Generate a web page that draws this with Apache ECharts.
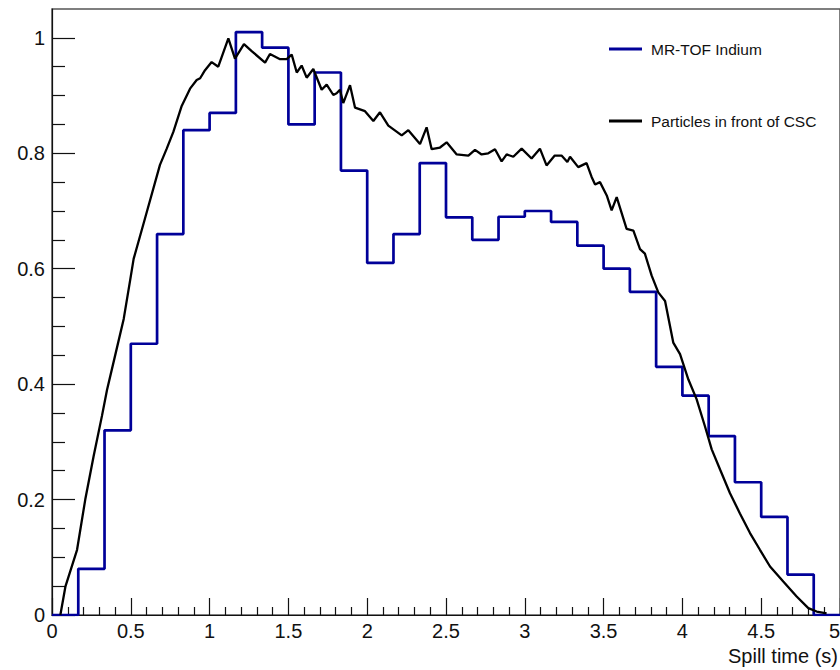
<!DOCTYPE html>
<html>
<head>
<meta charset="utf-8">
<script src="https://cdn.jsdelivr.net/npm/echarts@6/dist/echarts.min.js"></script>
<style>
html,body{margin:0;padding:0;background:#fff;}
#chart{width:840px;height:670px;}
</style>
</head>
<body>
<div id="chart"></div>
<script>
// ---- data ----
var binEdges = [0, 0.1667, 0.3333, 0.5, 0.6667, 0.8333, 1.0, 1.1667, 1.3333, 1.5, 1.6667, 1.8333, 2.0, 2.1667, 2.3333, 2.5, 2.6667, 2.8333, 3.0, 3.1667, 3.3333, 3.5, 3.6667, 3.8333, 4.0, 4.1667, 4.3333, 4.5, 4.6667, 4.8333, 5.0];
var mrtofValues = [0, 0.08, 0.32, 0.47, 0.66, 0.84, 0.87, 1.01, 0.983, 0.85, 0.94, 0.77, 0.61, 0.66, 0.783, 0.689, 0.65, 0.69, 0.70, 0.681, 0.64, 0.60, 0.56, 0.43, 0.38, 0.31, 0.23, 0.17, 0.07, 0];
var cscTime = [0.053, 0.085, 0.159, 0.211, 0.264, 0.317, 0.349, 0.40, 0.455, 0.497, 0.518, 0.59, 0.685, 0.728, 0.77, 0.823, 0.876, 0.918, 0.94, 0.971, 1.013, 1.055, 1.119, 1.161, 1.218, 1.267, 1.352, 1.383, 1.447, 1.489, 1.521, 1.553, 1.584, 1.616, 1.658, 1.711, 1.743, 1.785, 1.806, 1.827, 1.848, 1.891, 1.923, 1.986, 2.039, 2.081, 2.134, 2.219, 2.261, 2.335, 2.377, 2.409, 2.462, 2.504, 2.568, 2.642, 2.684, 2.726, 2.768, 2.811, 2.853, 2.885, 2.927, 2.98, 3.043, 3.096, 3.138, 3.19, 3.233, 3.27, 3.287, 3.339, 3.392, 3.424, 3.446, 3.477, 3.52, 3.551, 3.583, 3.646, 3.689, 3.731, 3.762, 3.805, 3.847, 3.89, 3.942, 3.985, 4.038, 4.09, 4.143, 4.186, 4.239, 4.302, 4.365, 4.429, 4.492, 4.556, 4.64, 4.725, 4.799, 4.852, 4.915];
var cscValues = [0, 0.049, 0.113, 0.2, 0.275, 0.345, 0.39, 0.449, 0.513, 0.582, 0.617, 0.687, 0.78, 0.808, 0.837, 0.882, 0.912, 0.927, 0.93, 0.944, 0.958, 0.95, 0.999, 0.964, 0.989, 0.977, 0.957, 0.972, 0.963, 0.963, 0.971, 0.94, 0.952, 0.931, 0.946, 0.91, 0.919, 0.901, 0.904, 0.91, 0.887, 0.918, 0.879, 0.873, 0.856, 0.871, 0.848, 0.831, 0.84, 0.816, 0.845, 0.807, 0.81, 0.819, 0.798, 0.796, 0.806, 0.798, 0.8, 0.807, 0.786, 0.798, 0.794, 0.808, 0.791, 0.808, 0.779, 0.796, 0.796, 0.785, 0.794, 0.776, 0.783, 0.759, 0.746, 0.75, 0.727, 0.701, 0.724, 0.669, 0.666, 0.634, 0.626, 0.588, 0.559, 0.544, 0.472, 0.452, 0.408, 0.374, 0.327, 0.287, 0.252, 0.211, 0.176, 0.142, 0.113, 0.084, 0.058, 0.032, 0.012, 0.006, 0.003];
var yMajorTicks = [0, 0.2, 0.4, 0.6, 0.8, 1.0];
var yMinorTicks = [0.05, 0.1, 0.15, 0.25, 0.3, 0.35, 0.45, 0.5, 0.55, 0.65, 0.7, 0.75, 0.85, 0.9, 0.95];
var seriesNames = ['MR-TOF Indium', 'Particles in front of CSC'];
var xTitle = 'Spill time (s)';

// ---- build series data ----
var histData = [];
for (var i = 0; i < mrtofValues.length; i++) {
  histData.push([binEdges[i], mrtofValues[i]]);
  histData.push([binEdges[i + 1], mrtofValues[i]]);
}
var cscData = cscTime.map(function (t, k) { return [t, cscValues[k]]; });

var FONT = 'Liberation Sans, Arial, Helvetica, sans-serif';
var chart = echarts.init(document.getElementById('chart'), null, {renderer: 'svg'});
chart.setOption({
  animation: false,
  backgroundColor: '#ffffff',
  grid: {
    left: 52, top: 9, width: 788, height: 606,
    containLabel: false, outerBoundsMode: 'none',
    show: true, borderColor: '#555555', borderWidth: 1.5, backgroundColor: 'transparent'
  },
  legend: [
    {
      data: [seriesNames[0]], left: 609, top: 41, padding: 0,
      icon: 'rect', itemWidth: 33, itemHeight: 3, selectedMode: false,
      textStyle: {fontFamily: FONT, fontSize: 15.5, color: '#111', padding: [0, 0, 0, 4]}
    },
    {
      data: [seriesNames[1]], left: 609, top: 113, padding: 0,
      icon: 'rect', itemWidth: 33, itemHeight: 3, selectedMode: false,
      textStyle: {fontFamily: FONT, fontSize: 15.5, color: '#111', padding: [0, 0, 0, 4]}
    }
  ],
  xAxis: {
    type: 'value', min: 0, max: 5, interval: 0.5,
    name: xTitle, nameLocation: 'end', nameGap: -2,
    nameTextStyle: {fontFamily: FONT, fontSize: 20, color: '#111', align: 'right', verticalAlign: 'top', padding: [31, 0, 0, 0]},
    axisLine: {show: true, lineStyle: {color: '#111', width: 1.2}},
    axisTick: {show: true, inside: true, length: 17, lineStyle: {color: '#111', width: 1.2}},
    minorTick: {show: true, splitNumber: 5, length: 8, lineStyle: {color: '#111', width: 1.2}},
    axisLabel: {fontFamily: FONT, fontSize: 20, color: '#111', margin: 6, alignMaxLabel: 'right',
      formatter: function (v) { return String(v); }},
    splitLine: {show: false},
    minorSplitLine: {show: false}
  },
  yAxis: [
    {
      type: 'value', min: 0, max: 1.05,
      axisLine: {show: true, lineStyle: {color: '#111', width: 1.2}},
      axisTick: {show: true, inside: true, length: 23, customValues: yMajorTicks, lineStyle: {color: '#111', width: 1.2}},
      axisLabel: {fontFamily: FONT, fontSize: 20, color: '#111', margin: 7, customValues: yMajorTicks,
        formatter: function (v) { return String(v); }},
      splitLine: {show: false}
    },
    {
      type: 'value', min: 0, max: 1.05, position: 'left',
      axisLine: {show: false},
      axisTick: {show: true, inside: true, length: 13, customValues: yMinorTicks, lineStyle: {color: '#111', width: 1.2}},
      axisLabel: {show: false},
      splitLine: {show: false}
    }
  ],
  series: [
    {
      name: seriesNames[0], type: 'line', data: histData, yAxisIndex: 0,
      showSymbol: false, symbol: 'none',
      lineStyle: {color: '#000099', width: 2.7},
      itemStyle: {color: '#000099'},
      z: 3
    },
    {
      name: seriesNames[1], type: 'line', data: cscData, yAxisIndex: 0,
      showSymbol: false, symbol: 'none',
      lineStyle: {color: '#000000', width: 2.3},
      itemStyle: {color: '#000000'},
      z: 4
    }
  ]
});
</script>
</body>
</html>
